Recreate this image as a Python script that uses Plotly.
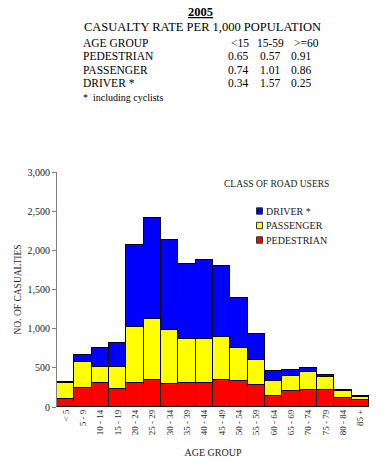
import plotly.graph_objects as go

age_groups = ["< 5", "5 - 9", "10 - 14", "15 - 19", "20 - 24", "25 - 29", "30 - 34",
              "35 - 39", "40 - 44", "45 - 49", "50 - 54", "55 - 59", "60 - 64",
              "65 - 69", "70 - 74", "75 - 79", "80 - 84", "85 +"]
pedestrian = [98, 247, 311, 234, 311, 340, 298, 311, 311, 349, 328, 277, 145, 200, 213, 221, 120, 86]
passenger = [205, 323, 200, 277, 710, 779, 681, 561, 561, 545, 429, 319, 191, 191, 234, 162, 88, 45]
driver = [16, 98, 242, 310, 1051, 1294, 1157, 958, 1009, 906, 639, 340, 119, 77, 51, 21, 5, 5]

rate_cols = ["<15", "15-59", ">=60"]
rate_rows = ["PEDESTRIAN", "PASSENGER", "DRIVER *"]
rate_vals = [["0.65", "0.57", "0.91"],
             ["0.74", "1.01", "0.86"],
             ["0.34", "1.57", "0.25"]]

series = [("DRIVER *", driver, "#0000FF"),
          ("PASSENGER", passenger, "#FFFF00"),
          ("PEDESTRIAN", pedestrian, "#FF0000")]

FONT = '"Liberation Serif", "Times New Roman", serif'
TXT = "#222222"

# plot area in pixels
L, R, T, B = 57, 369, 172, 407


def px(x, y):
    return (x - L) / (R - L), (B - y) / (B - T)


fig = go.Figure()
for name, vals, col in reversed(series):
    fig.add_trace(go.Bar(x=age_groups, y=vals, name=name, showlegend=False,
                         marker=dict(color=col, line=dict(color="#000000", width=1))))

ann = []
shapes = []


def add(text, x, y, size=11.5, xanchor="center", color="#000000"):
    ax, ay = px(x, y)
    ann.append(dict(text=text, x=ax, y=ay, xref="paper", yref="paper", showarrow=False,
                    xanchor=xanchor, yanchor="middle", borderpad=0,
                    font=dict(family=FONT, size=size, color=color)))


add("<b><u>2005</u></b>", 200, 12, size=12.5)
add("CASUALTY RATE PER 1,000 POPULATION", 202, 27, size=12.5)
add("AGE GROUP", 82, 43, xanchor="left")
col_x = [240, 270, 306]
val_x = [238, 270, 301]
for c, x in zip(rate_cols, col_x):
    add(c, x, 43)
row_y = [56.3, 69.6, 82.9]
for r, y, vals in zip(rate_rows, row_y, rate_vals):
    add(r, 82, y, xanchor="left")
    for v, x in zip(vals, val_x):
        add(v, x, y)
add("*  including cyclists", 82, 97, size=10, xanchor="left")
add("CLASS OF ROAD USERS", 276, 184, size=9.5, color=TXT)

# compact legend (small squares, tight rows as in the reference)
for i, (name, vals, col) in enumerate(series):
    cy = 211 + i * 14.5
    x0, y0 = px(256.5, cy - 3.2)
    x1, y1 = px(262.5, cy + 3.2)
    shapes.append(dict(type="rect", xref="paper", yref="paper", x0=x0, x1=x1, y0=y0, y1=y1,
                       fillcolor=col, line=dict(color="#333333", width=1)))
    add(name, 264.5, cy, size=10, xanchor="left", color=TXT)

fig.update_layout(
    width=383, height=461,
    margin=dict(l=L, r=383 - R, t=T, b=461 - B, pad=0, autoexpand=False),
    barmode="stack", bargap=0,
    plot_bgcolor="white", paper_bgcolor="white",
    font=dict(family=FONT, color=TXT),
    annotations=ann, shapes=shapes, showlegend=False,
    xaxis=dict(range=[-0.5, 17.5], tickangle=-90, ticks="", showline=False, automargin=False,
               tickfont=dict(family=FONT, size=9, color=TXT),
               title=dict(text="AGE GROUP", font=dict(family=FONT, size=10, color=TXT), standoff=14)),
    yaxis=dict(range=[0, 3000], dtick=500, tickformat=",", showgrid=False, zeroline=False,
               showline=True, linecolor="#808080", linewidth=1, ticks="outside", ticklen=4,
               automargin=False,
               tickcolor="#808080", tickfont=dict(family=FONT, size=10, color=TXT),
               title=dict(text="NO. OF CASUALTIES", font=dict(family=FONT, size=9.5, color=TXT), standoff=4)),
)

fig.write_html("out.html", config={"displayModeBar": False},
               post_script="document.body.style.margin='0';")
